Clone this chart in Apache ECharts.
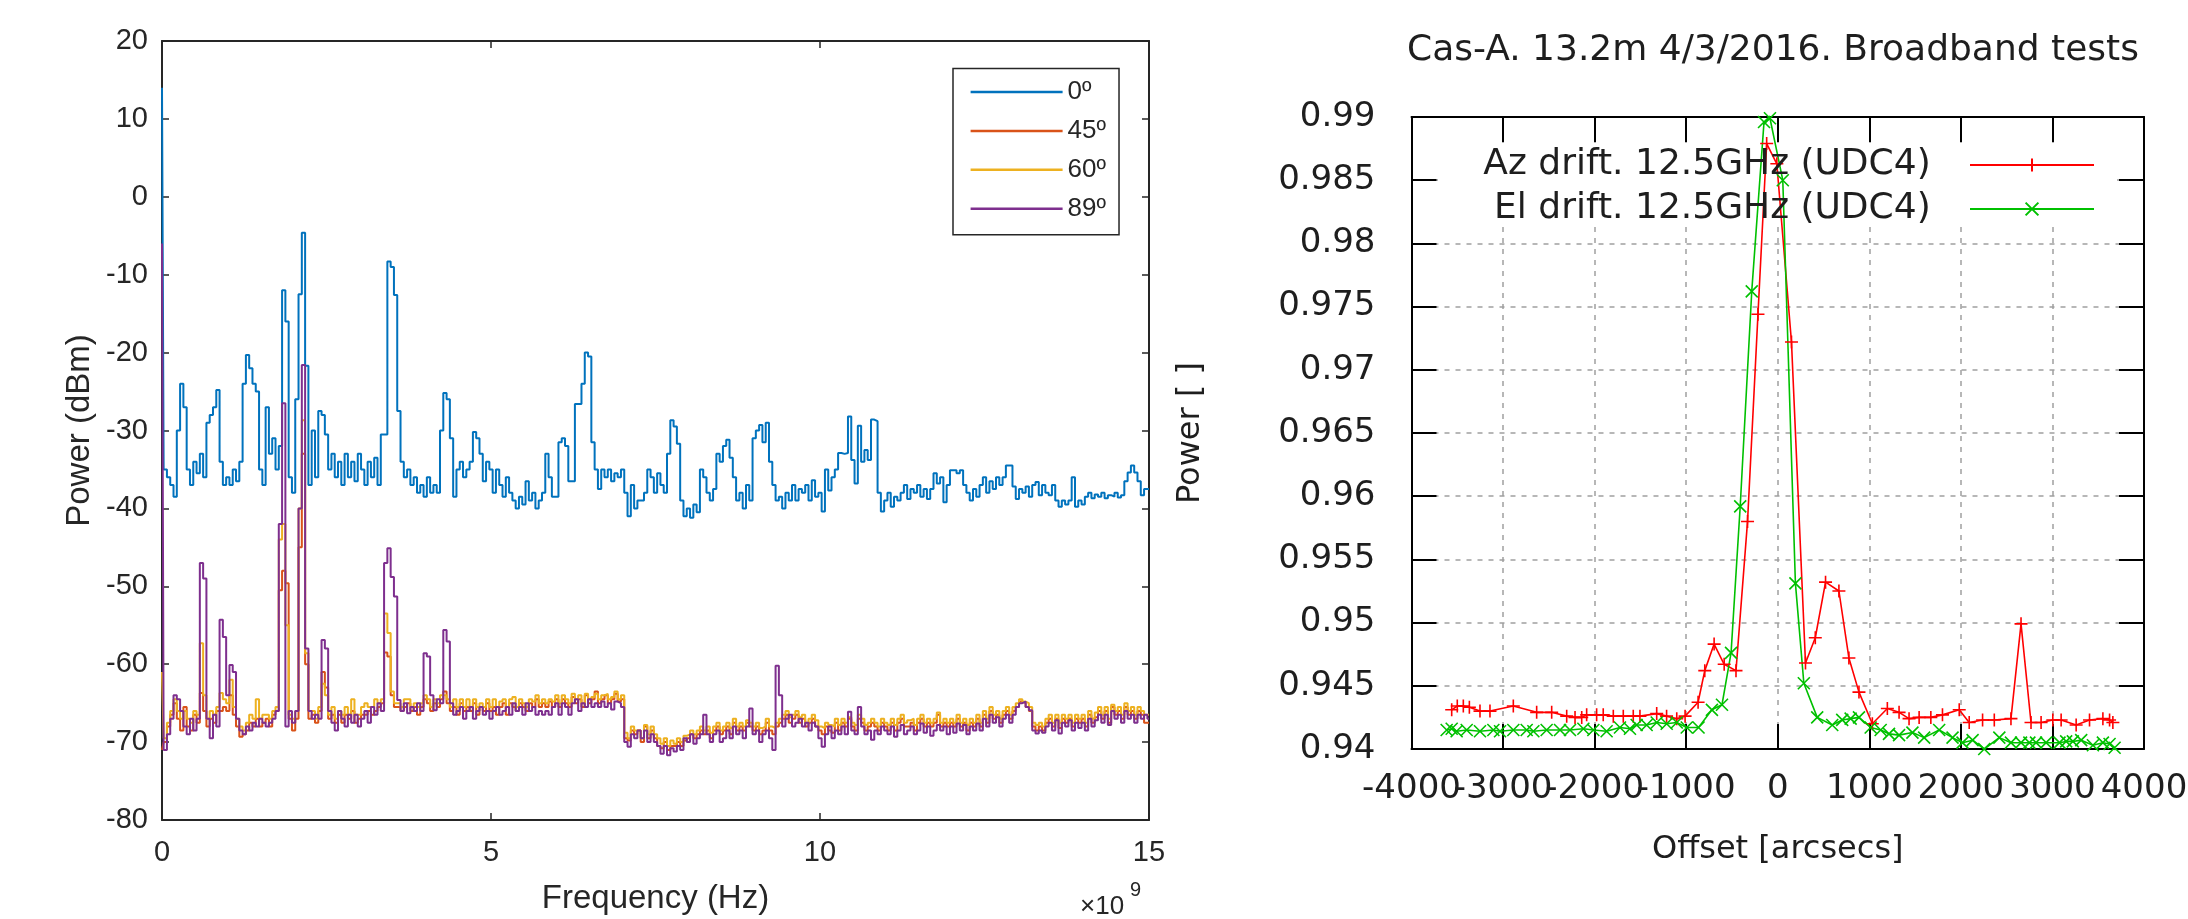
<!DOCTYPE html>
<html>
<head>
<meta charset="utf-8">
<script src="https://cdn.jsdelivr.net/npm/echarts@6/dist/echarts.min.js"></script>
<style>html,body{margin:0;padding:0;background:#fff}#c{width:2188px;height:919px}</style>
</head>
<body>
<div id="c"></div>
<script>
// ---------------- Left panel: spectrum (x in units of 1e9 Hz, sampled every 0.05) ----------------
const FREQ_START = 0;
const FREQ_STEP = 0.05;
const freqTicks = [0, 5, 10, 15];
const dbmTicks = [-80, -70, -60, -50, -40, -30, -20, -10, 0, 10, 20];
const spectrumNames = ['0º', '45º', '60º', '89º'];

const power0 = [
 14, -35, -36, -37, -38.5, -30, -24, -27, -35, -37, -34, -35.5, -33, -36, -29, -28, -27, -24.8, -34, -37,
 -36, -37, -35, -36.5, -34, -24, -20.3, -22, -24, -25, -35, -37, -27, -33, -31, -35, -32, -12, -16, -36,
 -38, -26, -12.5, -4.6, -21.7, -37, -30, -36, -27.5, -28, -30.5, -35, -33, -36, -34, -37, -33, -36, -34, -36.5,
 -33, -35, -37, -34, -36, -33.5, -37, -30.5, -30.5, -8.3, -9, -12.6, -27.5, -34, -36, -35, -37, -36, -38, -37,
 -38.5, -36, -38, -37, -38, -30, -25.2, -26, -31, -38.5, -35, -34, -36, -35, -34, -30.2, -31, -33, -36.5, -34,
 -35, -38, -35, -37, -38.5, -36, -38, -39, -40, -38.5, -39.5, -36.5, -39, -38, -40, -39, -38, -33, -36, -38.5,
 -38.5, -31.5, -31, -32, -36.5, -36.5, -26.6, -26.6, -24, -20, -20.5, -31.5, -35, -37.5, -35, -36, -35, -36.5, -35.5, -36,
 -35, -38, -41, -37, -40, -39, -39, -38, -35, -36, -38, -35.5, -37, -38, -33, -28.7, -29.5, -31.7, -39, -41,
 -40, -41.2, -39.5, -40.5, -35, -36, -38, -39, -37.5, -33, -34, -32, -31.2, -33.5, -36, -39, -38, -40, -37, -39,
 -31, -30, -29.3, -31.5, -29, -34, -37, -39, -38.5, -40, -38, -39, -37, -39, -37.5, -38, -37, -39, -36.4, -38.5,
 -38, -40.4, -35, -37.7, -36, -35, -32.9, -33, -32.9, -28.2, -33.8, -36.8, -29.4, -34, -32.5, -33.8, -28.6, -28.8, -38, -40.4,
 -39, -38, -39.8, -38.5, -39, -38, -37, -38.8, -37.5, -38, -37, -38.5, -37.5, -38.8, -37.5, -35.5, -36.8, -36, -39.2, -37,
 -35.1, -35.1, -35.5, -35.1, -37, -38, -39, -37.5, -38.5, -37, -36, -38, -36.5, -37.5, -36, -37, -36, -34.5, -34.5, -37.2,
 -38.8, -37.5, -38, -37.2, -38.5, -37, -36.6, -38.3, -37, -38, -38.3, -37, -39, -39.8, -39, -39.5, -39, -36, -39.8, -39,
 -39.5, -38.5, -38, -38.7, -38.2, -38.5, -38, -38.7, -38.3, -38.5, -38, -38.6, -38.3, -36.5, -35.4, -34.5, -35.4, -36.5, -38.3, -37.5,
 -37.5
];

const power45 = [
 -71, -70, -68, -66.5, -65, -67, -68.5, -65.5, -68, -68.5, -66.5, -67.5, -63.7, -66, -68, -67, -67.5, -66, -66, -65.5,
 -66, -64, -66.5, -68, -69.3, -69, -68.5, -67.5, -68, -67, -68, -67.5, -67, -68, -66.5, -66, -50.5, -48, -49.6, -67,
 -68.5, -67, -45, -33, -60, -67, -66.5, -67.5, -66, -61, -63, -67, -66.5, -67.5, -66.5, -67.5, -66.5, -67, -66, -67.5,
 -67, -66.5, -66.5, -66, -66.5, -66, -65.5, -65, -58.5, -59, -64, -65.5, -65.5, -66, -65.5, -65, -66, -65.5, -66.5, -65.5,
 -64.5, -65, -66, -65, -65.5, -64.5, -63.5, -65, -66, -65.5, -66.5, -65, -66, -65.5, -66, -65, -66.5, -65.5, -66, -65,
 -66, -65.5, -66.5, -65.5, -65, -66.5, -65, -65.5, -66, -65, -65.5, -66, -65, -65.5, -64.5, -65.5, -65, -65.5, -64.8, -65.5,
 -64.5, -65.5, -64.5, -65, -65.5, -64.2, -65, -64.5, -65.5, -64, -65, -64.5, -63.5, -65, -64.5, -64, -65, -64.5, -63.8, -64.8,
 -64.5, -69.5, -69.8, -68.5, -69, -68.5, -70, -68, -69.5, -68.5, -69.5, -70.5, -70.8, -70, -71, -70.5, -70.5, -70, -70.5, -69.8,
 -69.5, -69, -69.5, -69, -68.5, -69, -68.5, -69.5, -68.5, -68, -69, -68.5, -68, -69, -67.5, -68.5, -68, -68.5, -67.5, -68,
 -68.5, -68, -69, -68.5, -67.5, -68.5, -69, -68, -67.5, -67, -66.5, -67.5, -67, -66.5, -67.5, -67, -68, -67.5, -67, -68,
 -68.5, -69, -68, -68.5, -68.8, -67.5, -68.5, -67.5, -68, -67, -68, -68.5, -67, -67.5, -68.5, -68, -67.5, -68, -68.5, -67.5,
 -68, -68.5, -67.5, -68.5, -67.5, -67, -68, -68, -67.5, -68.5, -67.5, -67, -68, -67.5, -68, -67.5, -66.5, -68, -67.5, -68,
 -67.5, -68, -67, -68, -67.5, -68.5, -67.5, -68, -67, -68, -66.5, -67.5, -66, -67, -66.5, -67.5, -66.5, -66, -67, -66,
 -65.5, -64.8, -65, -65.5, -66, -68, -68.5, -68, -68.5, -67.5, -67, -68, -67, -68.2, -67, -67.5, -67, -68, -67, -67.5,
 -67, -68, -66.5, -67.5, -66.8, -66, -67, -66, -67.5, -65.5, -66.5, -66, -67, -65.5, -66.5, -66, -67, -66, -66.5, -67.5,
 -67.5
];

const power60 = [
 -61, -69.5, -67.5, -66, -64.5, -66, -67, -66, -67, -67.5, -66, -66.5, -57.3, -64, -67, -66, -66.5, -65.5, -63.7, -64.5,
 -65, -62, -65.5, -67, -68, -68.5, -67.5, -66.5, -67, -64.5, -67, -66.5, -66.5, -67, -66, -65.5, -44, -42, -55, -66.5,
 -67, -66, -40, -28.7, -58.6, -66, -66, -67, -65.5, -62.5, -64, -66.5, -65.5, -67, -66, -66.5, -65.5, -66.5, -64.5, -66.5,
 -66.5, -65.5, -65, -65.5, -65.5, -64.5, -65, -64.5, -53.5, -56, -63.5, -65, -65, -65.5, -64.5, -64.5, -65.5, -65, -65.5, -65,
 -64, -64.5, -65.5, -64.5, -65, -64, -64, -64.5, -65.5, -64.5, -65.5, -64.5, -65.5, -64.5, -65.5, -64.5, -65.5, -65, -65.5, -64.5,
 -65.5, -64.5, -65.5, -64.8, -64.5, -65.5, -64.5, -64.2, -65.5, -64.5, -65, -65.5, -64.5, -64.8, -64, -65, -64.5, -65, -64.5, -64.8,
 -64, -65, -64, -64.5, -65, -63.8, -64.5, -64, -65, -63.8, -64.5, -64.2, -63.8, -64.5, -64, -63.8, -64.5, -64.2, -63.5, -64.5,
 -64, -68.8, -69.5, -68, -68.5, -68.5, -69.5, -67.8, -69, -68, -69, -69.5, -70.2, -69.5, -70.5, -69.8, -70.2, -69.5, -70, -69.2,
 -69, -68.5, -69, -68.5, -68, -68.5, -68, -68.8, -68, -67.5, -68.5, -68, -67.5, -68.2, -67, -68, -67.5, -68, -67.2, -67.5,
 -68, -67.5, -68.2, -68, -67, -68, -68.2, -67.5, -67, -66.5, -66, -66.8, -66.5, -66, -66.8, -66.5, -67.5, -67, -66.5, -67.2,
 -68, -68.2, -67.5, -67.8, -68, -67, -67.8, -67, -67.5, -66.8, -67.5, -67.8, -66.5, -67, -67.8, -67.5, -67, -67.5, -68, -67,
 -67.5, -67.8, -67, -67.8, -67, -66.5, -67.5, -67.2, -67, -67.8, -67, -66.5, -67.5, -67, -67.5, -67, -66.2, -67.5, -67, -67.5,
 -67, -67.5, -66.5, -67.5, -67, -67.8, -67, -67.5, -66.5, -67.5, -66, -67, -65.5, -66.5, -66, -67, -66, -65.5, -66.5, -65.5,
 -65, -64.5, -64.8, -65, -65.5, -67.5, -67.8, -67.5, -68, -67, -66.5, -67.5, -66.5, -67.5, -66.5, -67, -66.5, -67.5, -66.5, -67,
 -66.5, -67.5, -66, -67, -66.2, -65.5, -66.5, -65.5, -67, -65.2, -66, -65.5, -66.5, -65, -66, -65.5, -66.5, -65.5, -66, -66.5,
 -66.5
];

const power89 = [
 -6, -71, -69, -67, -64, -64.5, -66, -68, -69, -67, -68.5, -67, -47, -49, -67, -69.5, -66.5, -68, -54.3, -56.5,
 -64, -60.1, -61, -67, -68.5, -69, -68, -68.5, -67.5, -68, -67, -67.5, -68, -67.5, -67, -66, -42, -26.5, -68, -66,
 -67.5, -66, -40, -21.6, -58, -66, -67, -66.5, -67, -56.9, -58, -66, -67.5, -68.5, -66, -67, -68, -66.5, -67.5, -66.5,
 -68, -67, -66, -67.5, -65.5, -66.5, -65, -66, -47, -45.1, -48.8, -51.3, -64.6, -66, -65, -66.3, -65.5, -66, -65, -66,
 -58.6, -59, -64, -65.9, -64.5, -65, -55.6, -57.1, -65, -66.5, -66, -65.5, -67, -66, -65.5, -67, -66, -65.5, -66.5, -66,
 -67, -66, -65.5, -66.5, -66, -65.5, -66.5, -65, -66, -65.5, -66.5, -65, -66, -65.5, -66.5, -66, -66.5, -66, -66.5, -65.5,
 -65, -66.5, -65, -65.5, -66.5, -65, -64.5, -66, -65, -65.5, -64.5, -65.5, -65, -65.5, -64.8, -65.5, -65, -65.8, -64.8, -65,
 -65.5, -70, -70.6, -69, -69.5, -68.5, -69.5, -68.5, -70, -69, -70, -70.5, -71.5, -70.5, -71.7, -70.8, -71.2, -70.5, -71, -69.5,
 -70, -69, -70.2, -69.5, -69, -66.5, -69, -70, -69, -68.5, -70, -69.5, -68.5, -69.5, -68, -69, -68.5, -69.5, -68, -65.7,
 -69, -68.5, -70, -69, -68.5, -69.5, -71, -60.2, -64, -68, -67, -66.5, -68, -67.5, -67, -68, -67.5, -68.5, -67.5, -68,
 -69.5, -70.6, -69, -68, -69.5, -68.5, -69, -68, -69, -66.1, -68.5, -69, -65.5, -68, -69, -68.5, -69.7, -68.5, -69, -68,
 -68.5, -69, -68, -69.3, -68.5, -67.8, -69, -68.5, -68, -69, -68.5, -67.6, -68.8, -68, -69.2, -68.5, -67.8, -68.5, -68, -69,
 -68, -68.8, -67.6, -68.5, -67.8, -69, -68, -68.5, -67.6, -68.5, -67, -68, -66.5, -67.5, -66.8, -68, -67, -66.5, -67.5, -66.5,
 -65.5, -65, -64.8, -65.5, -65.9, -68.5, -68.9, -68.5, -68.8, -68, -67.5, -68.5, -67.2, -68.9, -67.5, -68, -67.2, -68.5, -67.5, -68.2,
 -67.5, -68.5, -67, -68, -67.2, -66.5, -67.5, -66.5, -67.8, -66, -67, -66.5, -67.5, -66, -67, -66.5, -67.5, -66.5, -67, -66.5,
 -67
];

// ---------------- Right panel: Cas-A drift scans ----------------
const offsetTicks = [-4000, -3000, -2000, -1000, 0, 1000, 2000, 3000, 4000];
const powerTicks = [0.94, 0.945, 0.95, 0.955, 0.96, 0.965, 0.97, 0.975, 0.98, 0.985, 0.99];
const driftNames = ['Az drift. 12.5GHz (UDC4)', 'El drift. 12.5GHz (UDC4)'];

const azOffset = [-3561, -3500, -3434, -3368, -3252, -3143, -2888, -2633, -2469, -2305, -2214, -2141, -2087, -1978, -1906, -1796, -1687, -1578, -1505, -1322, -1214, -1103, -1012, -870, -797, -695, -585, -456, -330, -216, -121, -10, 150, 303, 410, 522, 668, 777, 887, 1033, 1197, 1325, 1434, 1544, 1672, 1799, 1982, 2091, 2237, 2365, 2547, 2657, 2766, 2876, 3004, 3095, 3259, 3405, 3551, 3624, 3660];
const azPower = [0.9431, 0.9434, 0.9434, 0.9433, 0.9430, 0.9430, 0.9434, 0.9429, 0.9429, 0.9426, 0.9425, 0.9425, 0.9427, 0.9427, 0.9427, 0.9426, 0.9426, 0.9426, 0.9426, 0.9428, 0.9426, 0.9424, 0.9426, 0.9437, 0.9462, 0.9483, 0.9467, 0.9462, 0.9580, 0.9744, 0.9879, 0.9863, 0.9722, 0.9468, 0.9488, 0.9532, 0.9525, 0.9472, 0.9445, 0.9420, 0.9432, 0.9429, 0.9424, 0.9425, 0.9425, 0.9427, 0.9431, 0.9421, 0.9423, 0.9423, 0.9424, 0.9499, 0.9421, 0.9421, 0.9423, 0.9423, 0.9419, 0.9423, 0.9424, 0.9423, 0.9421];

const elOffset = [-3616, -3561, -3507, -3397, -3252, -3106, -3033, -2888, -2742, -2669, -2524, -2378, -2269, -2123, -2014, -1869, -1723, -1614, -1541, -1432, -1322, -1213, -1103, -994, -865, -719, -609, -510, -410, -284, -150, -85, 55, 193, 285, 431, 595, 704, 796, 887, 1015, 1124, 1215, 1325, 1471, 1599, 1763, 1909, 2018, 2128, 2255, 2420, 2547, 2657, 2748, 2821, 2931, 3077, 3150, 3223, 3314, 3442, 3551, 3624, 3679];
const elPower = [0.9415, 0.9416, 0.9414, 0.9415, 0.9414, 0.9415, 0.9414, 0.9415, 0.9415, 0.9414, 0.9415, 0.9415, 0.9415, 0.9416, 0.9415, 0.9414, 0.9417, 0.9416, 0.9419, 0.9419, 0.9421, 0.9420, 0.9421, 0.9417, 0.9417, 0.9431, 0.9435, 0.9476, 0.9592, 0.9762, 0.9896, 0.9899, 0.9850, 0.9531, 0.9452, 0.9425, 0.9419, 0.9423, 0.9424, 0.9425, 0.9417, 0.9415, 0.9412, 0.9411, 0.9413, 0.9409, 0.9415, 0.9409, 0.9405, 0.9407, 0.9400, 0.9409, 0.9405, 0.9405, 0.9405, 0.9405, 0.9405, 0.9405, 0.9406, 0.9406, 0.9407, 0.9403, 0.9405, 0.9404, 0.9401];

// ---------------- build ----------------
const freqs = power0.map((_, i) => +(FREQ_START + i * FREQ_STEP).toFixed(2));
const pairs = (xs, ys) => xs.map((x, i) => [x, ys[i]]);

const MFONT = "'Liberation Sans', Arial, Helvetica, sans-serif";
const GFONT = "'DejaVu Sans', sans-serif";
const MGRAY = '#262626';
const GTEXT = '#1e1e1e';

function mAxis(extra) {
  return Object.assign({
    type: 'value',
    axisLine: { show: true, onZero: false, lineStyle: { color: MGRAY, width: 2 } },
    axisTick: { show: true, inside: true, length: 7, lineStyle: { color: MGRAY, width: 1.5 } },
    splitLine: { show: false },
    axisLabel: { show: false }
  }, extra);
}
function gAxis(extra) {
  return Object.assign({
    type: 'value',
    axisLine: { show: true, onZero: false, lineStyle: { color: '#000', width: 2 } },
    axisTick: { show: true, inside: true, length: 25, lineStyle: { color: '#000', width: 2 } },
    splitLine: { show: false },
    axisLabel: { show: false }
  }, extra);
}
const gSplit = { show: true, lineStyle: { color: '#a0a0a0', width: 1.5, type: [5, 6] } };
const gLabelBase = { margin: 23, fontSize: 34, color: GTEXT, fontFamily: GFONT, hideOverlap: false };

const plusSym = 'path://M0,6L12,6M6,0L6,12';
const crossSym = 'path://M0,0L12,12M12,0L0,12';

const spectrumColors = ['#0072BD', '#D95319', '#EDB120', '#7E2F8E'];
const spectrumData = [power0, power45, power60, power89];

const rightGrid = { left: 1411.5, top: 117, width: 732.5, height: 632, outerBoundsMode: 'none', containLabel: false };

const option = {
  animation: false,
  backgroundColor: '#ffffff',
  title: {
    text: 'Cas-A. 13.2m 4/3/2016. Broadband tests',
    left: 1773, top: 51, padding: 0,
    textAlign: 'center', textVerticalAlign: 'middle',
    textStyle: { fontSize: 36, fontWeight: 'normal', color: GTEXT, fontFamily: GFONT }
  },
  grid: [
    { left: 162, top: 41, width: 987, height: 779, outerBoundsMode: 'none', containLabel: false },
    rightGrid,
    // twin of the right grid, used only to print the "-4000" label that ECharts would otherwise drop
    Object.assign({}, rightGrid)
  ],
  xAxis: [
    mAxis({
      gridIndex: 0, position: 'bottom',
      min: freqTicks[0], max: freqTicks[freqTicks.length - 1], interval: freqTicks[1] - freqTicks[0],
      axisLabel: { show: true, margin: 18, fontSize: 29, color: MGRAY, fontFamily: MFONT, showMinLabel: true, showMaxLabel: true },
      name: 'Frequency (Hz)', nameLocation: 'middle', nameGap: 62,
      nameTextStyle: { fontSize: 33, color: MGRAY, fontFamily: MFONT }
    }),
    mAxis({ gridIndex: 0, position: 'top',
      min: freqTicks[0], max: freqTicks[freqTicks.length - 1], interval: freqTicks[1] - freqTicks[0] }),
    gAxis({
      gridIndex: 1, position: 'bottom',
      min: offsetTicks[0], max: offsetTicks[offsetTicks.length - 1], interval: offsetTicks[1] - offsetTicks[0],
      splitLine: gSplit,
      axisLabel: Object.assign({ show: true, showMinLabel: false, showMaxLabel: true, formatter: v => String(v) }, gLabelBase),
      name: 'Offset [arcsecs]', nameLocation: 'middle', nameGap: 85,
      nameTextStyle: { fontSize: 32, color: GTEXT, fontFamily: GFONT }
    }),
    gAxis({ gridIndex: 1, position: 'top',
      min: offsetTicks[0], max: offsetTicks[offsetTicks.length - 1], interval: offsetTicks[1] - offsetTicks[0] }),
    {
      type: 'value', gridIndex: 2, position: 'bottom',
      min: offsetTicks[0], max: offsetTicks[offsetTicks.length - 1], interval: offsetTicks[1] - offsetTicks[0],
      axisLine: { show: false, onZero: false }, axisTick: { show: false }, splitLine: { show: false },
      axisLabel: Object.assign({ show: true, showMinLabel: true, showMaxLabel: false,
        formatter: v => (v === offsetTicks[0] ? String(v) : '') }, gLabelBase)
    }
  ],
  yAxis: [
    mAxis({
      gridIndex: 0, position: 'left',
      min: dbmTicks[0], max: dbmTicks[dbmTicks.length - 1], interval: dbmTicks[1] - dbmTicks[0],
      axisLabel: { show: true, margin: 14, fontSize: 29, color: MGRAY, fontFamily: MFONT, showMinLabel: true, showMaxLabel: true },
      name: 'Power (dBm)', nameLocation: 'middle', nameGap: 66,
      nameTextStyle: { fontSize: 33, color: MGRAY, fontFamily: MFONT }
    }),
    mAxis({ gridIndex: 0, position: 'right',
      min: dbmTicks[0], max: dbmTicks[dbmTicks.length - 1], interval: dbmTicks[1] - dbmTicks[0] }),
    gAxis({
      gridIndex: 1, position: 'left',
      min: powerTicks[0], max: powerTicks[powerTicks.length - 1], interval: 0.005,
      splitLine: gSplit,
      axisLabel: { show: true, margin: 36, fontSize: 34, color: GTEXT, fontFamily: GFONT,
        showMinLabel: true, showMaxLabel: true, formatter: v => String(+v.toFixed(3)) },
      name: 'Power [ ]', nameLocation: 'middle', nameGap: 205,
      nameTextStyle: { fontSize: 32, color: GTEXT, fontFamily: GFONT }
    }),
    gAxis({ gridIndex: 1, position: 'right',
      min: powerTicks[0], max: powerTicks[powerTicks.length - 1], interval: 0.005 }),
    { type: 'value', gridIndex: 2, show: false,
      min: powerTicks[0], max: powerTicks[powerTicks.length - 1] }
  ],
  legend: [
    {
      data: spectrumNames.map(n => ({ name: n, icon: 'rect' })),
      orient: 'vertical', left: 953, top: 68.6,
      padding: [8.4, 13, 11, 17.6], itemGap: 8.9, itemWidth: 92, itemHeight: 2.5,
      borderColor: MGRAY, borderWidth: 1.5, backgroundColor: '#fff',
      itemStyle: { borderWidth: 0 },
      selectedMode: false,
      textStyle: { fontSize: 26, lineHeight: 30, color: MGRAY, fontFamily: MFONT }
    },
    {
      data: driftNames,
      orient: 'vertical', align: 'right', right: 93, top: 147,
      padding: 0, itemGap: 8, itemWidth: 124, itemHeight: 16,
      selectedMode: false,
      formatter: n => n + '   ',
      textStyle: { fontSize: 36, lineHeight: 34, color: GTEXT, fontFamily: GFONT }
    }
  ],
  graphic: {
    elements: [
      // gnuplot leaves the grid out behind the key area
      { type: 'rect', z: 1, silent: true, shape: { x: 1438, y: 143, width: 679, height: 83 }, style: { fill: '#fff' } },
      { type: 'text', x: 1080, y: 907, silent: true,
        style: { text: '×10', fontSize: 26, fontFamily: MFONT, fill: MGRAY, align: 'left', verticalAlign: 'middle' } },
      { type: 'text', x: 1130, y: 890, silent: true,
        style: { text: '9', fontSize: 20, fontFamily: MFONT, fill: MGRAY, align: 'left', verticalAlign: 'middle' } }
    ]
  },
  series: [
    ...spectrumNames.map((n, k) => ({
      name: n, type: 'line', xAxisIndex: 0, yAxisIndex: 0,
      data: pairs(freqs, spectrumData[k]),
      step: 'middle', symbol: 'none', silent: true, clip: true,
      lineStyle: { color: spectrumColors[k], width: 2 },
      itemStyle: { color: spectrumColors[k] }
    })),
    {
      name: driftNames[0], type: 'line', xAxisIndex: 2, yAxisIndex: 2,
      data: pairs(azOffset, azPower),
      symbol: plusSym, symbolSize: 13, showSymbol: true, silent: true,
      lineStyle: { color: '#ff0000', width: 1.6 },
      itemStyle: { color: '#ff0000', borderColor: '#ff0000', borderWidth: 1.6 }
    },
    {
      name: driftNames[1], type: 'line', xAxisIndex: 2, yAxisIndex: 2,
      data: pairs(elOffset, elPower),
      symbol: crossSym, symbolSize: 12, showSymbol: true, silent: true,
      lineStyle: { color: '#00c000', width: 1.6 },
      itemStyle: { color: '#00c000', borderColor: '#00c000', borderWidth: 1.6 }
    }
  ]
};

const chart = echarts.init(document.getElementById('c'), null, { renderer: 'canvas', width: 2188, height: 919 });
chart.setOption(option);
</script>
</body>
</html>
